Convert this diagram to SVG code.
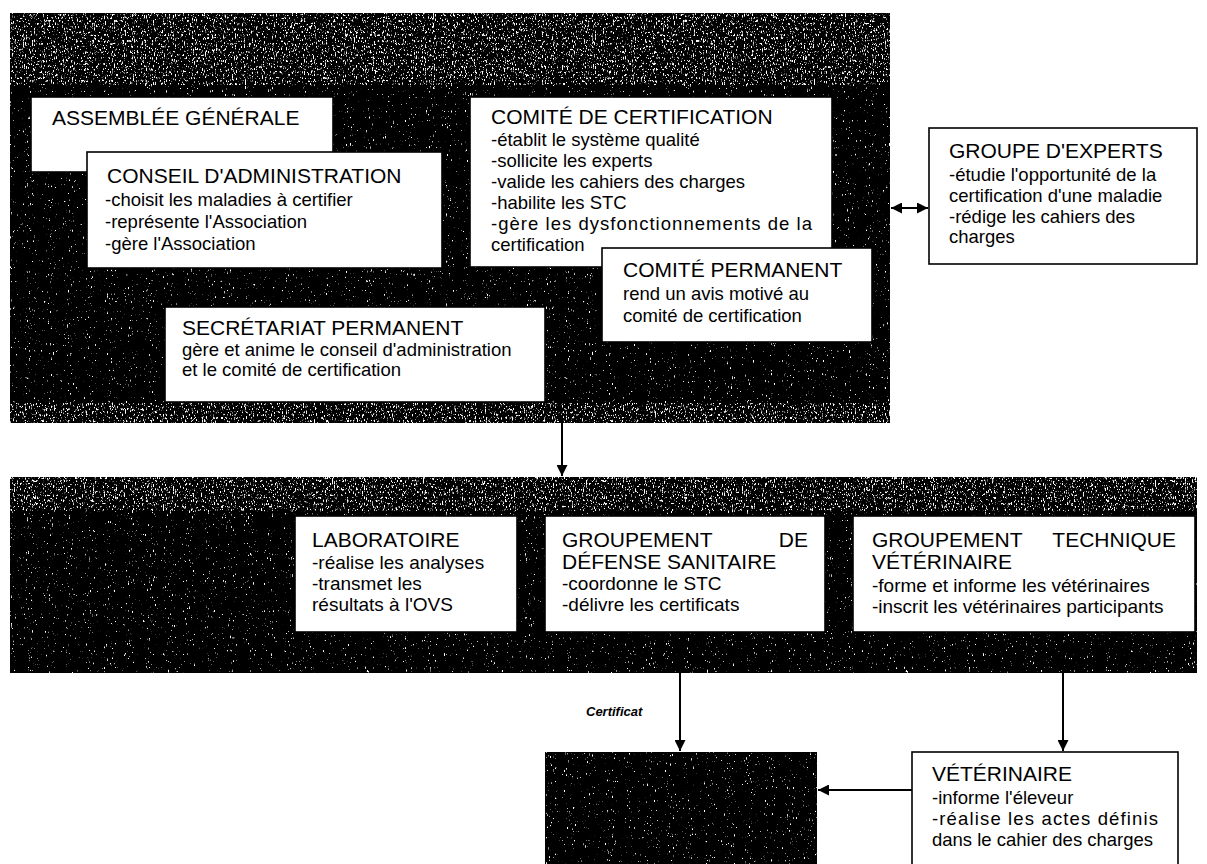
<svg xmlns="http://www.w3.org/2000/svg" width="1207" height="864" viewBox="0 0 1207 864">
<style>
.bg{fill:#fff}
.dark{fill:#000}
.box{fill:#fff;stroke:#000;stroke-width:1.6}
.t{font-family:"Liberation Sans",Arial,sans-serif;font-size:21px;fill:#000}
.b{font-family:"Liberation Sans",Arial,sans-serif;font-size:18.5px;fill:#000}
.b2{font-family:"Liberation Sans",Arial,sans-serif;font-size:19px;fill:#000}
.lbl{font-family:"Liberation Sans",Arial,sans-serif;font-size:13px;font-weight:bold;font-style:italic;fill:#000}
.con{stroke:#000;stroke-width:2;fill:none}
</style>
<defs>
<filter id="speckle" x="0" y="0" width="1" height="1">
<feTurbulence type="fractalNoise" baseFrequency="0.95 0.3" numOctaves="2" seed="7"/>
<feColorMatrix type="matrix" values="0 0 0 0 1  0 0 0 0 1  0 0 0 0 1  10 0 0 0 -6.9"/>
</filter>
<filter id="speckle2" x="0" y="0" width="1" height="1">
<feTurbulence type="fractalNoise" baseFrequency="0.9 0.35" numOctaves="2" seed="11"/>
<feColorMatrix type="matrix" values="0 0 0 0 1  0 0 0 0 1  0 0 0 0 1  9 0 0 0 -5.4"/>
</filter>
<marker id="ah" viewBox="0 0 10 10" refX="10" refY="5" markerWidth="5.5" markerHeight="5.5" orient="auto-start-reverse" markerUnits="strokeWidth">
<path d="M0,0 L10,5 L0,10 z" fill="#000"/>
</marker>
</defs>
<rect class="bg" x="0" y="0" width="1207" height="864"/>

<g id="panel-association">
<rect class="dark" x="10" y="13" width="880" height="410"/>
<rect x="10" y="13" width="880" height="410" filter="url(#speckle)"/>
<rect x="10" y="13" width="880" height="72" filter="url(#speckle2)"/>
<rect x="10" y="403" width="880" height="20" filter="url(#speckle2)"/>
</g>
<g id="panel-stc">
<rect class="dark" x="10" y="477" width="1187" height="196"/>
<rect x="10" y="477" width="1187" height="196" filter="url(#speckle)"/>
<rect x="10" y="477" width="1187" height="34" filter="url(#speckle2)"/>
</g>
<g id="panel-eleveur">
<rect class="dark" x="545" y="752" width="272" height="112"/>
<rect x="545" y="752" width="272" height="112" filter="url(#speckle)"/>
</g>

<g id="assemblee-generale">
<rect class="box" x="31" y="97" width="302" height="75"/>
<text class="t" x="52" y="125">ASSEMBLÉE GÉNÉRALE</text>
</g>

<g id="conseil-administration">
<rect class="box" x="87" y="152" width="355" height="116"/>
<text class="t" x="107" y="183">CONSEIL D'ADMINISTRATION</text>
<text class="b" x="105" y="206">-choisit les maladies à certifier</text>
<text class="b" x="105" y="228">-représente l'Association</text>
<text class="b" x="105" y="250">-gère l'Association</text>
</g>

<g id="comite-certification">
<rect class="box" x="470" y="97" width="362" height="170"/>
<text class="t" x="491" y="124">COMITÉ DE CERTIFICATION</text>
<text class="b" x="491" y="146">-établit le système qualité</text>
<text class="b" x="491" y="167">-sollicite les experts</text>
<text class="b" x="491" y="188">-valide les cahiers des charges</text>
<text class="b" x="491" y="209">-habilite les STC</text>
<text class="b" x="491" y="230" textLength="321" lengthAdjust="spacing">-gère les dysfonctionnements de la</text>
<text class="b" x="491" y="251">certification</text>
</g>

<g id="comite-permanent">
<rect class="box" x="602" y="248" width="270" height="94"/>
<text class="t" x="623" y="277">COMITÉ PERMANENT</text>
<text class="b" x="623" y="300">rend un avis motivé au</text>
<text class="b" x="623" y="322">comité de certification</text>
</g>

<g id="secretariat-permanent">
<rect class="box" x="165" y="307" width="380" height="95"/>
<text class="t" x="182" y="335">SECRÉTARIAT PERMANENT</text>
<text class="b" x="182" y="356">gère et anime le conseil d'administration</text>
<text class="b" x="182" y="376">et le  comité de certification</text>
</g>

<g id="groupe-experts">
<rect class="box" x="929" y="128" width="268" height="136"/>
<text class="t" x="949" y="158">GROUPE D'EXPERTS</text>
<text class="b" x="949" y="181">-étudie l'opportunité de la</text>
<text class="b" x="949" y="202">certification d'une maladie</text>
<text class="b" x="949" y="223">-rédige les cahiers des</text>
<text class="b" x="949" y="243">charges</text>
</g>

<g id="laboratoire">
<rect class="box" x="295" y="516" width="222" height="116"/>
<text class="t" x="312" y="547">LABORATOIRE</text>
<text class="b2" x="312" y="569">-réalise les analyses</text>
<text class="b2" x="312" y="590">-transmet les</text>
<text class="b2" x="312" y="611">résultats à l'OVS</text>
</g>

<g id="groupement-defense-sanitaire">
<rect class="box" x="545" y="516" width="280" height="116"/>
<text class="t" x="562" y="547">GROUPEMENT</text>
<text class="t" x="808" y="547" text-anchor="end">DE</text>
<text class="t" x="562" y="569">DÉFENSE SANITAIRE</text>
<text class="b2" x="562" y="590">-coordonne le STC</text>
<text class="b2" x="562" y="611">-délivre les certificats</text>
</g>

<g id="groupement-technique-veterinaire">
<rect class="box" x="853" y="516" width="342" height="116"/>
<text class="t" x="872" y="547">GROUPEMENT</text>
<text class="t" x="1176" y="547" text-anchor="end">TECHNIQUE</text>
<text class="t" x="872" y="569">VÉTÉRINAIRE</text>
<text class="b2" x="872" y="592">-forme et informe les vétérinaires</text>
<text class="b2" x="872" y="613">-inscrit les vétérinaires participants</text>
</g>

<g id="veterinaire">
<rect class="box" x="912" y="752" width="266" height="125"/>
<text class="t" x="932" y="781">VÉTÉRINAIRE</text>
<text class="b" x="932" y="804">-informe l'éleveur</text>
<text class="b" x="932" y="825" textLength="226" lengthAdjust="spacing">-réalise les actes définis</text>
<text class="b" x="932" y="846">dans le cahier des charges</text>
</g>

<g id="connectors">
<line class="con" x1="891" y1="208" x2="928" y2="208" marker-start="url(#ah)" marker-end="url(#ah)"/>
<line class="con" x1="562" y1="423" x2="562" y2="476" marker-end="url(#ah)"/>
<line class="con" x1="680" y1="673" x2="680" y2="751" marker-end="url(#ah)"/>
<text class="lbl" x="586" y="716">Certificat</text>
<line class="con" x1="1063" y1="673" x2="1063" y2="751" marker-end="url(#ah)"/>
<line class="con" x1="912" y1="790" x2="818" y2="790" marker-end="url(#ah)"/>
</g>
</svg>
